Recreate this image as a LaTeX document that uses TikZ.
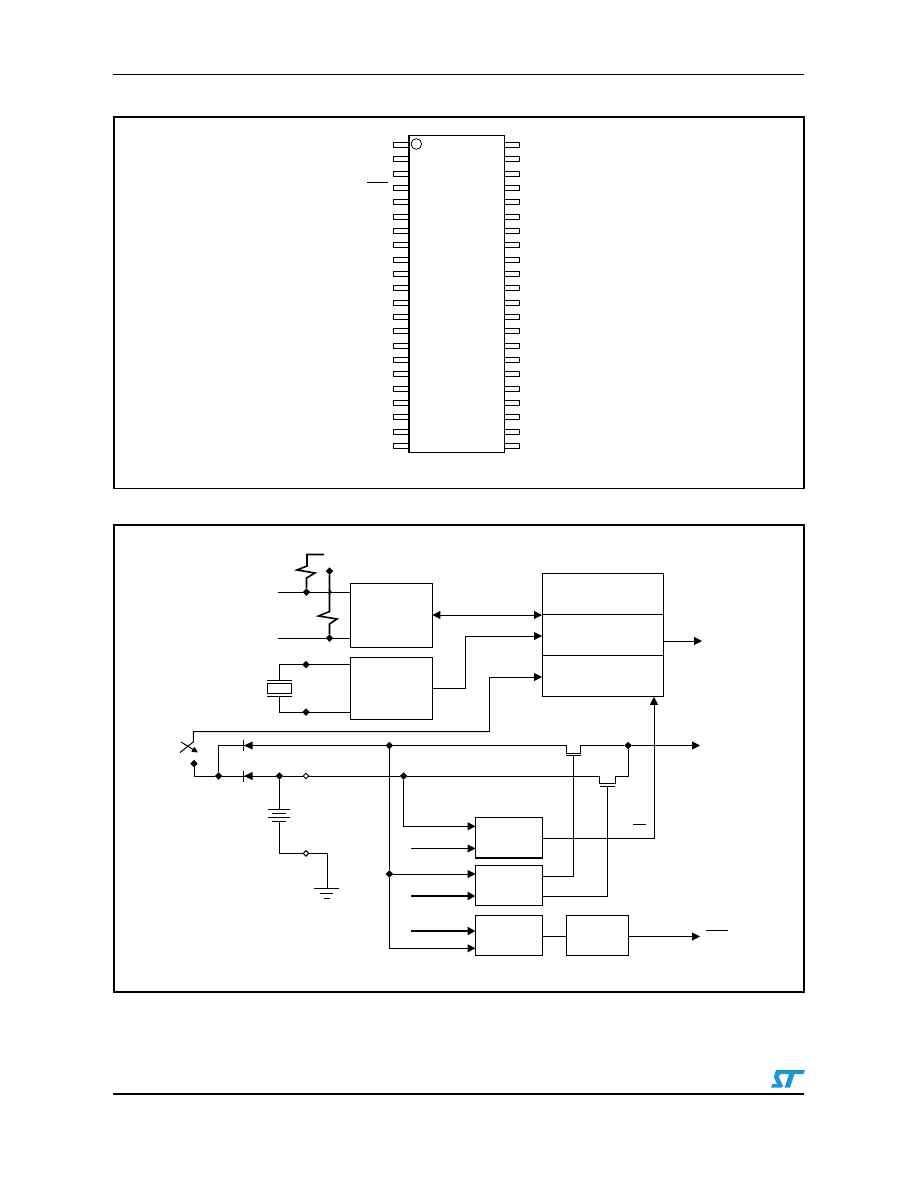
\documentclass[tikz,border=0pt]{standalone}
\usepackage{tikz}
\usetikzlibrary{arrows.meta, shapes.geometric}

\definecolor{stblue}{RGB}{30,150,214}

\tikzset{
  frameline/.style={line width=1.3pt},
  blockbox/.style={draw, rectangle, inner sep=0pt, outer sep=0pt, line width=1pt},
  chippin/.style={draw, rectangle, inner sep=0pt, outer sep=0pt, minimum width=15pt, minimum height=5pt, line width=0.9pt},
  jdot/.style={draw=none, diamond, fill=black, inner sep=0pt, outer sep=0pt, minimum size=7.5pt},
  jopen/.style={draw, diamond, fill=white, inner sep=0pt, outer sep=0pt, minimum size=5.5pt, line width=1pt},
  sig/.style={-{Triangle[length=8pt,width=8pt]}, line width=1pt},
  dsig/.style={{Triangle[length=8pt,width=8pt]}-{Triangle[length=8pt,width=8pt]}, line width=1pt},
  bus/.style={-{Triangle[length=8pt,width=8pt]}, line width=2pt},
  resist/.style={line width=1.6pt},
}

\begin{document}
\begin{tikzpicture}[x=1pt,y=-1pt,line width=1pt]
  \useasboundingbox (0,0) rectangle (918,1188);

  % page rules
  \draw (113,74.5) -- (804,74.5);
  \draw[line width=2pt] (113,1094) -- (804,1094);

  % frames
  \draw[frameline] (114,117) rectangle (804,488.5);
  \draw[frameline] (114,525) rectangle (804,992);

  % package
  \node[blockbox, minimum width=95.5pt, minimum height=316pt] (chip) at (456.5,294) {};
  \draw[line width=2pt] (chip.north west) -- (chip.south west);
  \foreach \i in {0,...,21} {
    \node[chippin, anchor=east] (pinL\i) at (chip.west |- 0,{145+14.33*\i}) {};
    \node[chippin, anchor=west] (pinR\i) at (chip.east |- 0,{145+14.33*\i}) {};
  }
  \draw[line width=0.8pt] (416.3,144) circle (5.3);
  \draw (367,182) -- (388,182);

  % blocks
  \node[blockbox, minimum width=81.5pt, minimum height=64pt] (rtcbus) at (391.7,615) {};
  \node[blockbox, minimum width=81.5pt, minimum height=62pt] (osc) at (391.7,688) {};
  \node[blockbox, minimum width=121pt, minimum height=122.5pt] (clockmem) at (602.5,635.2) {};
  \draw (clockmem.west |- 0,614.5) -- (clockmem.east |- 0,614.5);
  \draw (clockmem.west |- 0,655.5) -- (clockmem.east |- 0,655.5);
  \node[blockbox, minimum width=67pt, minimum height=41pt] (compa) at (509,837.5) {};
  \draw[line width=2pt] (compa.south west) -- (compa.south east);
  \node[blockbox, minimum width=67pt, minimum height=40pt] (compb) at (509,885) {};
  \node[blockbox, minimum width=67pt, minimum height=40pt] (compc) at (509,935) {};
  \node[blockbox, minimum width=62.5pt, minimum height=40pt] (delay) at (597.3,935) {};

  % junctions
  \node[jdot] (jsda) at (306.5,592) {};
  \node[jdot] (jpull) at (329.5,571) {};
  \node[jdot] (jscl) at (329.5,638) {};
  \node[jdot] (jxa) at (306,664.5) {};
  \node[jdot] (jxb) at (306,712) {};
  \node[jdot] (jsw) at (194,763.7) {};
  \node[jdot] (jbat) at (218.7,776) {};
  \node[jdot] (jbatplus) at (279.3,776) {};
  \node[jopen] (jvbat) at (306,776) {};
  \node[jdot] (jvcc) at (389.3,745.5) {};
  \node[jdot] (jvbus) at (403.7,776) {};
  \node[jdot] (jcomp) at (389.3,874) {};
  \node[jdot] (jout) at (628,745.5) {};
  \node[jopen] (jgnd) at (306,853.3) {};

  % free ends
  \coordinate (sdain) at (278,592);
  \coordinate (sclin) at (278,638);
  \coordinate (rtop) at (324,554.5);
  \coordinate (swtop) at (193.3,742);
  \coordinate (pfiin) at (411,848.5);
  \coordinate (ain) at (411,896);
  \coordinate (bin) at (411,931);
  \coordinate (clkout) at (702,641);
  \coordinate (vout) at (700,745.5);
  \coordinate (rstout) at (700,936.5);
  \coordinate (dgate) at (573.5,755.5);
  \coordinate (fgate) at (607.5,786);

  % bus and clock inputs
  \draw (sdain) -- (jsda) -- (jsda -| rtcbus.west);
  \draw (sclin) -- (jscl) -- (jscl -| rtcbus.west);
  \draw[resist] (rtop) -- (307,554.5) -- (307,566) -- (297,570) -- (315,573) -- (306.5,578) -- (jsda);
  \draw[resist] (jpull) -- (329.5,611.5) -- (318.5,616) -- (337,619) -- (329.5,624) -- (jscl);
  \draw[-{Straight Barb[length=2.5pt,width=5pt]}] (328,592) -- (332,592);
  \draw[dsig] (rtcbus.east) -- (rtcbus.east -| clockmem.west);
  \draw[sig] (osc.east) -- (465.5,688) -- (465.5,636) -- (clockmem.west |- 0,636);

  % crystal
  \draw (osc.west |- jxa) -- (279,664.5) -- (279,680);
  \draw (osc.west |- jxb) -- (279,712) -- (279,696);
  \draw (267,680) -- (291.5,680);
  \draw (267,696) -- (291.5,696);
  \draw (267.5,683.5) rectangle (291,693.5);

  % switch and diodes
  \draw[sig] (489.5,731.5) |- (clockmem.west |- 0,677);
  \draw (489.5,731.5) -- (193.3,731.5) -- (swtop) -- (180,752.5);
  \draw[-{Triangle[length=6pt,width=5.5pt]}] (181,742) -- (198,752.5);
  \draw (jsw) |- (jbat);
  \draw (jbat) |- (243.5,745.5);
  \draw (jbat) -- (jbatplus) -- (jvbat) -- (jvbus);
  \foreach \y in {745.5,776} {
    \draw (243.5,\y-5.5) -- (243.5,\y+5.5);
    \fill (244,\y) -- (252.5,\y-4) -- (252.5,\y+4) -- cycle;
  }
  \draw (243.5,745.5) -- (jvcc) -- (566.5,745.5) -- (566.5,753.5) -- (580.5,753.5) -- (580.5,745.5) -- (jout);
  \draw[sig] (jout) -- (vout);
  \draw (jvbus) -- (599.5,776) -- (599.5,783) -- (615,783) -- (615,776) -- (628,776) -- (jout);

  % pass devices
  \draw (566,755.5) -- (581,755.5);
  \draw (599.5,786) -- (615,786);
  \draw (dgate) |- (compb.east |- 0,876);
  \draw (fgate) |- (compb.east |- 0,896.5);

  % battery
  \draw (jbatplus) -- (279.3,809.3);
  \draw (268,809.3) -- (290,809.3);
  \draw (272,813.5) -- (286,813.5);
  \draw (268,817.3) -- (290,817.3);
  \draw (272,821.3) -- (286,821.3);
  \draw (279.3,821.3) |- (jgnd);
  \draw (jgnd) -- (327.3,853.3) -- (327.3,888.3);
  \draw (314,888.3) -- (339,888.3);
  \draw (320,893.3) -- (333,893.3);
  \draw (324,898.3) -- (330,898.3);

  % comparator inputs
  \draw[sig] (jvbus) |- (compa.west |- 0,826.3);
  \draw[sig] (pfiin) -- (pfiin -| compa.west);
  \draw (jvcc) -- (jcomp);
  \draw[sig] (jcomp) -- (jcomp -| compb.west);
  \draw[sig] (jcomp) |- (compc.west |- 0,948.3);
  \draw[bus] (ain) -- (ain -| compb.west);
  \draw[bus] (bin) -- (bin -| compc.west);

  % outputs
  \draw[sig] (compa.east |- 0,838.5) -- (654,838.5) -- (654,696.8);
  \draw (633,824) -- (646,824);
  \draw (compc.east |- rstout) -- (delay.west |- rstout);
  \draw[sig] (delay.east |- rstout) -- (rstout);
  \draw (706,930) -- (728,930);
  \draw[sig] (clockmem.east |- clkout) -- (clkout);

  % logo
  \fill[stblue] (776,1070) -- (805,1070) -- (803.6,1074) -- (794.5,1074) -- (790,1087.5) -- (784.5,1087.5) -- (789,1074) -- (781,1074) -- (778.5,1076) -- (783,1086) -- (781.5,1087.5) -- (771,1087.5) -- (772.3,1084) -- (777,1084) -- (773.8,1077) -- cycle;
\end{tikzpicture}
\end{document}
